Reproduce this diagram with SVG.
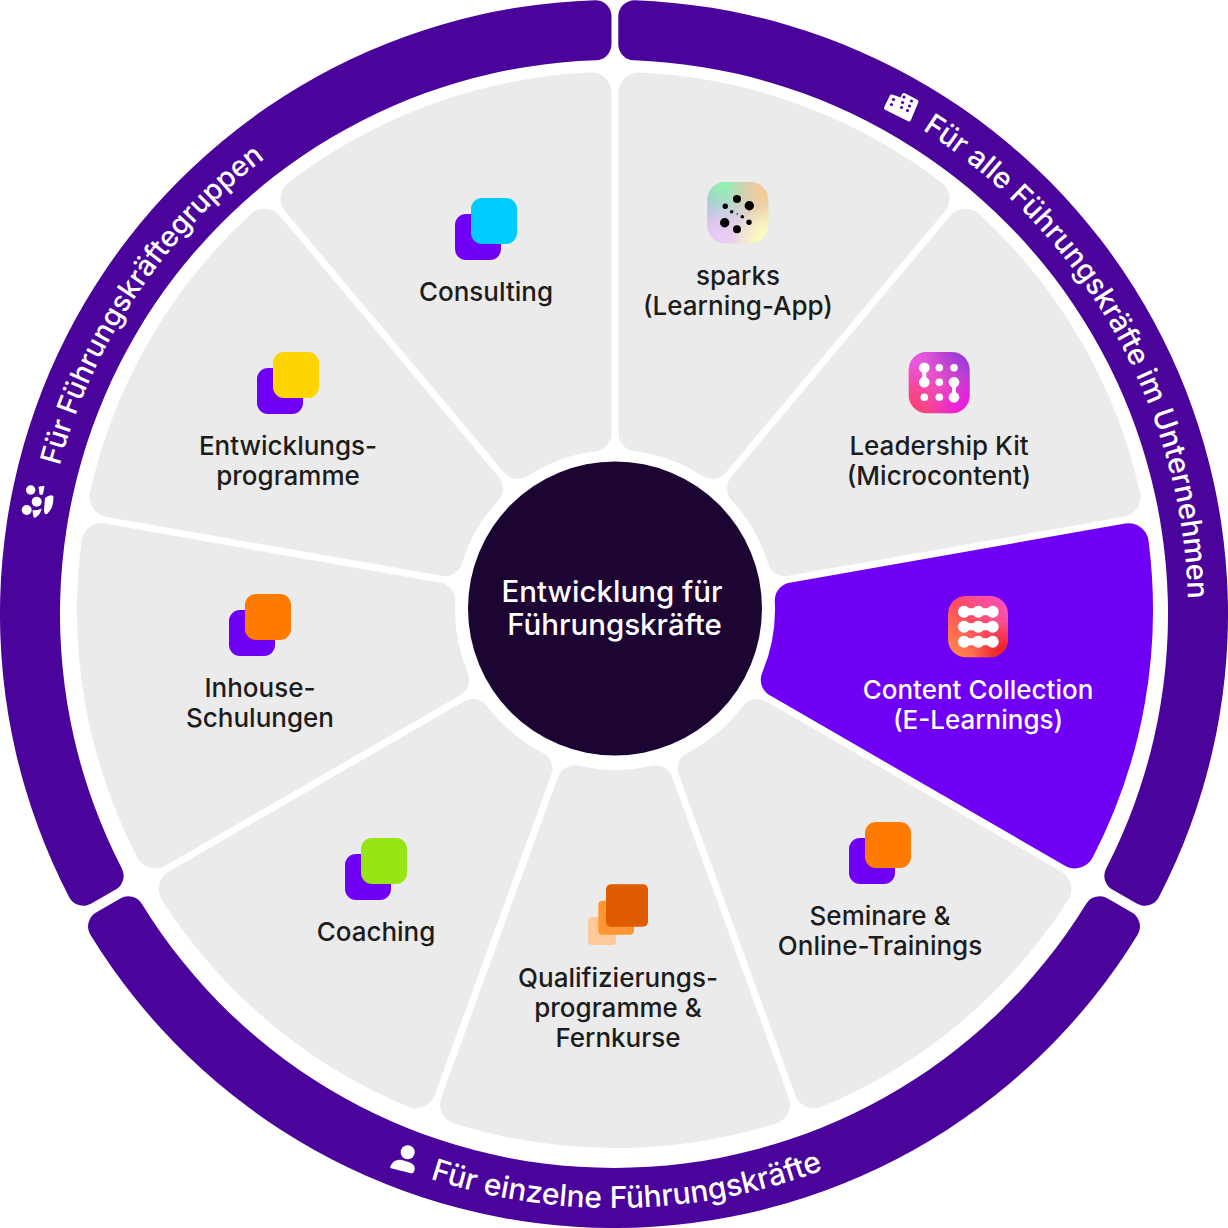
<svg xmlns="http://www.w3.org/2000/svg" xmlns:xlink="http://www.w3.org/1999/xlink" width="1228" height="1228" viewBox="0 0 1228 1228">
<style>
text{font-family:"Inter","Liberation Sans",sans-serif;font-weight:500}
.lb{font-size:26px;fill:#1c1c1c;text-anchor:middle}
.w{fill:#fff}
.rt{fill:#fff;text-anchor:middle}
.band{fill:#4b049b}
.sec{fill:#ebebeb}
.p{fill:#6f00f5}
</style>
<defs>
<path id="sector" d="M-57.14 -167.24L-173.69 -487.46A20 20 0 0 1 -160.88 -513.38A538 538 0 0 1 160.88 -513.38A20 20 0 0 1 173.69 -487.46L57.14 -167.24A18 18 0 0 1 36.16 -155.86A160 160 0 0 0 -36.16 -155.86A18 18 0 0 1 -57.14 -167.24Z"/>
<path id="arcR" d="M619 40A574 574 0 0 1 1108.6 905.3"/>
<path id="arcL" d="M98.1 865.6A574 574 0 0 1 654 41.4"/>
<path id="arcB" d="M106.4 922.6A594 594 0 0 0 1135 899.2"/>
<linearGradient id="sp1" x1="0" y1="0" x2="1" y2="1"><stop offset="0" stop-color="#a4a6f2"/><stop offset="1" stop-color="#fff9c0"/></linearGradient>
<radialGradient id="sp2" cx=".25" cy="0" r=".65"><stop offset="0" stop-color="#8ff9aa"/><stop offset="1" stop-color="#8ff9aa" stop-opacity="0"/></radialGradient>
<radialGradient id="sp3" cx="1" cy=".1" r=".7"><stop offset="0" stop-color="#fbc98a"/><stop offset="1" stop-color="#fbc98a" stop-opacity="0"/></radialGradient>
<radialGradient id="sp4" cx=".2" cy="1" r=".7"><stop offset="0" stop-color="#efc8ff"/><stop offset="1" stop-color="#efc8ff" stop-opacity="0"/></radialGradient>
<radialGradient id="sp5" cx="1" cy="1" r=".6"><stop offset="0" stop-color="#ffffb8"/><stop offset="1" stop-color="#ffffb8" stop-opacity="0"/></radialGradient>
<linearGradient id="lk1" x1="0" y1="1" x2="1" y2="0"><stop offset="0" stop-color="#ff3f63"/><stop offset=".5" stop-color="#ea4fc8"/><stop offset="1" stop-color="#8a35dc"/></linearGradient>
<radialGradient id="lk2" cx="1" cy="1" r=".7"><stop offset="0" stop-color="#e80fe0"/><stop offset="1" stop-color="#e80fe0" stop-opacity="0"/></radialGradient>
<radialGradient id="lk3" cx="0" cy="0" r=".6"><stop offset="0" stop-color="#e85ce8"/><stop offset="1" stop-color="#e85ce8" stop-opacity="0"/></radialGradient>
<linearGradient id="cc1" x1="0" y1="1" x2="1" y2="0"><stop offset="0" stop-color="#ff9040"/><stop offset=".5" stop-color="#fa4d62"/><stop offset="1" stop-color="#ff50cc"/></linearGradient>
<radialGradient id="cc2" cx="1" cy="1" r=".6"><stop offset="0" stop-color="#e81414"/><stop offset="1" stop-color="#e81414" stop-opacity="0"/></radialGradient>
</defs>
<rect width="1228" height="1228" fill="#fff"/>

<g id="band-fuehrungskraeftegruppen">
<path class="band" d="M611.5 44.3L611.5 16.29A16 16 0 0 0 595 .29A614 614 0 0 0 69.18 897.15A16 16 0 0 0 91.38 903.61L115.67 889.6A16 16 0 0 0 121.86 868.4A554 554 0 0 1 596.02 60.29A16 16 0 0 0 611.5 44.3Z"/>
<text class="rt" font-size="28.7"><textPath xlink:href="#arcL" href="#arcL" startOffset="49.8%">Für Führungskräftegruppen</textPath></text>
<g fill="#fff">
<circle cx="30.7" cy="490" r="4.7"/><circle cx="36.7" cy="501.7" r="5"/><circle cx="26.7" cy="510" r="5"/>
<path d="M38.5 487Q41 485.5 44.5 486L43 494Q41 496 39.5 494Z"/>
<path d="M45 498Q50 494 53.3 496Q54 508 47 514Q44 515 44 510Z"/>
<path d="M32.5 510Q37 511 41.7 508.5Q41 514 35 518Q33 518 32.5 510Z"/>
</g>
</g>

<g id="band-alle-fuehrungskraefte">
<path class="band" d="M618.3 44.36L618.3 16.35A16 16 0 0 1 634.84 .36A614 614 0 0 1 1158.82 897.15A16 16 0 0 1 1136.62 903.61L1112.33 889.6A16 16 0 0 1 1106.14 868.4A554 554 0 0 0 633.73 60.35A16 16 0 0 1 618.3 44.36Z"/>
<text class="rt" font-size="29.2"><textPath xlink:href="#arcR" href="#arcR" startOffset="50%">Für alle Führungskräfte im Unternehmen</textPath></text>
<path d="M886 108L891.5 96.5L901.5 100L904 95L916.5 101.5L909 119.5Z" fill="#fff" stroke="#fff" stroke-width="4" stroke-linejoin="round"/>
<g fill="#4b049b"><circle cx="893.5" cy="99.5" r="1.6"/><circle cx="891.5" cy="104.5" r="1.6"/><circle cx="904" cy="97" r="1.6"/><circle cx="902.5" cy="102.5" r="1.6"/><circle cx="911.5" cy="101" r="1.6"/><circle cx="909.5" cy="106" r="1.6"/><circle cx="901.5" cy="107.5" r="1.6"/><circle cx="907.5" cy="110.5" r="1.6"/></g>
</g>

<g id="band-einzelne-fuehrungskraefte">
<path class="band" d="M1107.7 898.47L1131.94 912.47A16 16 0 0 1 1137.61 934.68A614 614 0 0 1 90.39 934.68A16 16 0 0 1 96.06 912.47L120.3 898.47A16 16 0 0 1 141.93 903.94A554 554 0 0 0 1086.07 903.94A16 16 0 0 1 1107.7 898.47Z"/>
<text class="rt" font-size="30"><textPath xlink:href="#arcB" href="#arcB" startOffset="50%">Für einzelne Führungskräfte</textPath></text>
<circle cx="407.7" cy="1152.3" r="7" fill="#fff"/>
<path d="M390.5 1166Q394 1158.5 402 1160L410 1162.5Q416 1165 414.5 1170.5Q413.5 1174 410 1173L392 1168.5Q389.5 1168 390.5 1166Z" fill="#fff"/>
</g>

<g id="node-sparks">
<use href="#sector" class="sec" transform="translate(615 610) rotate(20)"/>
<g>
<rect x="707.3" y="182" width="61" height="61.3" rx="18" fill="url(#sp1)"/>
<rect x="707.3" y="182" width="61" height="61.3" rx="18" fill="url(#sp2)"/>
<rect x="707.3" y="182" width="61" height="61.3" rx="18" fill="url(#sp3)"/>
<rect x="707.3" y="182" width="61" height="61.3" rx="18" fill="url(#sp4)"/>
<rect x="707.3" y="182" width="61" height="61.3" rx="18" fill="url(#sp5)"/>
<g fill="#000"><circle cx="737" cy="199" r="4"/><circle cx="749.3" cy="205.7" r="4.7"/><circle cx="725.3" cy="206.3" r="2.7"/><circle cx="731.7" cy="211.7" r="1.8"/><circle cx="737.3" cy="214" r=".8"/><circle cx="742.3" cy="216.7" r="1.8"/><circle cx="749" cy="222.3" r="2.7"/><circle cx="724.7" cy="222.7" r="4.7"/><circle cx="737" cy="229.3" r="4"/></g>
</g>
<text class="lb" x="738" y="285">sparks</text>
<text class="lb" x="738" y="315">(Learning-App)</text>
</g>

<g id="node-leadership-kit">
<use href="#sector" class="sec" transform="translate(615 610) rotate(60)"/>
<rect x="908.7" y="352" width="61" height="61.3" rx="18" fill="url(#lk1)"/>
<rect x="908.7" y="352" width="61" height="61.3" rx="18" fill="url(#lk2)"/>
<rect x="908.7" y="352" width="61" height="61.3" rx="18" fill="url(#lk3)"/>
<g fill="#fff"><circle cx="924.3" cy="367.7" r="5.3"/><circle cx="924.3" cy="382.3" r="5.3"/><rect x="922.3" y="367" width="4" height="16"/><circle cx="924.3" cy="397.3" r="3.8"/><circle cx="939.3" cy="367.7" r="3.8"/><circle cx="939.3" cy="382.3" r="3.8"/><circle cx="939.3" cy="397.3" r="3.8"/><circle cx="954" cy="367.7" r="3.8"/><circle cx="954" cy="382.3" r="5.3"/><circle cx="954" cy="397.3" r="5.3"/><rect x="952" y="382" width="4" height="16"/></g>
<text class="lb" x="939" y="455">Leadership Kit</text>
<text class="lb" x="939" y="485">(Microcontent)</text>
</g>

<g id="node-content-collection">
<use href="#sector" class="p" transform="translate(615 610) rotate(100)"/>
<rect x="948" y="596" width="60" height="61.3" rx="18" fill="url(#cc1)"/>
<rect x="948" y="596" width="60" height="61.3" rx="18" fill="url(#cc2)"/>
<g fill="#fff"><g id="ccrow"><circle cx="964" cy="611.7" r="6"/><circle cx="978.3" cy="611.7" r="6"/><circle cx="992.7" cy="611.7" r="6"/><rect x="964" y="608.2" width="28.7" height="7"/></g><use href="#ccrow" y="15"/><use href="#ccrow" y="30"/></g>
<text class="lb w" x="978" y="699">Content Collection</text>
<text class="lb w" x="978" y="729">(E-Learnings)</text>
</g>

<g id="node-seminare">
<use href="#sector" class="sec" transform="translate(615 610) rotate(140)"/>
<rect class="p" x="849" y="838" width="46" height="46" rx="11"/>
<rect x="865" y="822" width="46" height="46" rx="11" fill="#ff7a00"/>
<text class="lb" x="880" y="925">Seminare &amp;</text>
<text class="lb" x="880" y="955">Online-Trainings</text>
</g>

<g id="node-qualifizierung">
<use href="#sector" class="sec" transform="translate(615 610) rotate(180)"/>
<rect x="588" y="917" width="28" height="28" rx="4" fill="#ffc999"/>
<rect x="598.3" y="900.7" width="35.7" height="34" rx="4" fill="#ff9533"/>
<rect x="606" y="884.3" width="42" height="42.4" rx="5" fill="#e05a00"/>
<text class="lb" x="618" y="987">Qualifizierungs-</text>
<text class="lb" x="618" y="1017">programme &amp;</text>
<text class="lb" x="618" y="1047">Fernkurse</text>
</g>

<g id="node-coaching">
<use href="#sector" class="sec" transform="translate(615 610) rotate(220)"/>
<rect class="p" x="345" y="854" width="46" height="46" rx="11"/>
<rect x="361" y="838" width="46" height="46" rx="11" fill="#95e614"/>
<text class="lb" x="376" y="941">Coaching</text>
</g>

<g id="node-inhouse">
<use href="#sector" class="sec" transform="translate(615 610) rotate(260)"/>
<rect class="p" x="229" y="610" width="46" height="46" rx="11"/>
<rect x="245" y="594" width="46" height="46" rx="11" fill="#ff7a00"/>
<text class="lb" x="260" y="697">Inhouse-</text>
<text class="lb" x="260" y="727">Schulungen</text>
</g>

<g id="node-entwicklungsprogramme">
<use href="#sector" class="sec" transform="translate(615 610) rotate(300)"/>
<rect class="p" x="257" y="368" width="46" height="46" rx="11"/>
<rect x="273" y="352" width="46" height="46" rx="11" fill="#ffd400"/>
<text class="lb" x="288" y="455">Entwicklungs-</text>
<text class="lb" x="288" y="485">programme</text>
</g>

<g id="node-consulting">
<use href="#sector" class="sec" transform="translate(615 610) rotate(340)"/>
<rect class="p" x="455" y="214" width="46" height="46" rx="11"/>
<rect x="471" y="198" width="46" height="46" rx="11" fill="#00ccff"/>
<text class="lb" x="486" y="301">Consulting</text>
</g>

<g id="node-center">
<circle cx="615" cy="608.5" r="147" fill="#1c0433"/>
<text x="612" y="602" class="w" style="font-size:29.5px;text-anchor:middle">Entwicklung für</text>
<text x="614.5" y="635" class="w" style="font-size:29.5px;text-anchor:middle">Führungskräfte</text>
</g>
<g id="connectors"/>
</svg>
